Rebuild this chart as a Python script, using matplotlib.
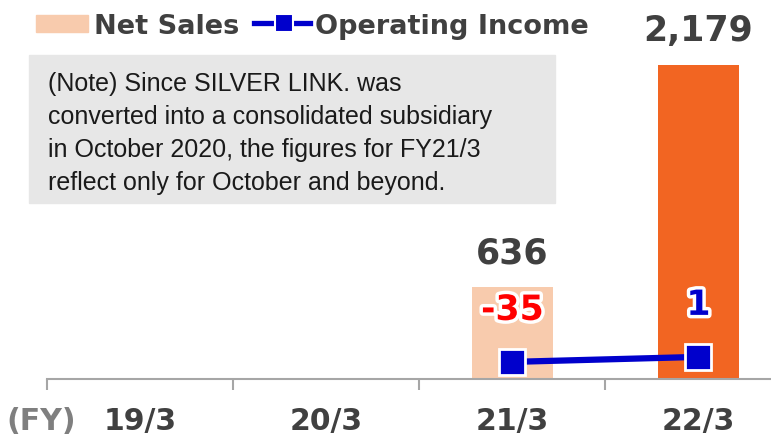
import numpy as np
import matplotlib.pyplot as plt
import matplotlib.patheffects as pe
from matplotlib.patches import Rectangle
from matplotlib.lines import Line2D

years = ['19/3', '20/3', '21/3', '22/3']
net_sales = [np.nan, np.nan, 636, 2179]
op_income = [np.nan, np.nan, -35, 1]
bar_colors = ['#F8CBAD', '#F8CBAD', '#F8CBAD', '#F26522']
note = ("(Note) Since SILVER LINK. was\n"
        "converted into a consolidated subsidiary\n"
        "in October 2020, the figures for FY21/3\n"
        "reflect only for October and beyond.")

plt.rcParams['font.family'] = ['DejaVu Sans']
dark = '#404040'
blue = '#0000CC'
W, H = 771, 436


def fx(px):
    return px / W


def fy(py):
    return 1 - py / H


fig = plt.figure(figsize=(7.71, 4.36), dpi=100)
ax = fig.add_axes([fx(47), 57 / H, 724 / W, 379 / H])
ax2 = ax.twinx()

x = np.arange(len(years))
ax.bar(x, net_sales, width=0.435, color=bar_colors, zorder=1)
ax2.plot(x, op_income, color=blue, lw=4.5, marker='s', ms=19,
         mfc=blue, mec='white', mew=2, zorder=3)

for i, v in enumerate(net_sales):
    if not np.isnan(v):
        ax.annotate(f'{v:,.0f}', (x[i], v), xytext=(0, 34),
                    textcoords='offset pixels', ha='center', va='center',
                    fontsize=25, fontweight='bold', color=dark)

for i, v in enumerate(op_income):
    if not np.isnan(v):
        c = 'red' if v < 0 else blue
        ax2.annotate(f'{v:,.0f}', (x[i], v), xytext=(0, 52),
                     textcoords='offset pixels', ha='center', va='center',
                     fontsize=25, fontweight='bold', color=c,
                     path_effects=[pe.withStroke(linewidth=5, foreground='white')])

for a in (ax, ax2):
    for s in ['top', 'right', 'left']:
        a.spines[s].set_visible(False)
    a.set_yticks([])
ax2.spines['bottom'].set_visible(False)
ax.spines['bottom'].set_color('#A6A6A6')
ax.spines['bottom'].set_linewidth(1.5)

ax.set_xticks(x)
ax.set_xticklabels(years, fontsize=21.5, fontweight='bold', color=dark)
ax.tick_params(axis='x', which='major', length=0, pad=20)
ax.set_xticks(np.arange(-0.5, 4, 1), minor=True)
ax.tick_params(axis='x', which='minor', length=8, width=1.5, color='#A6A6A6')

# limits after ticks (set_xticks widens the view)
ax.set_xlim(-0.5, 3.39)
ax.set_ylim(0, 2630)
ax2.set_ylim(-158, 2568)

fig.text(fx(41), fy(421), '(FY)', ha='center', va='center',
         fontsize=21.5, fontweight='bold', color='#7F7F7F')

# note box
fig.patches.append(Rectangle((fx(29), fy(203)), 526 / W, 148 / H,
                             transform=fig.transFigure, color='#E7E7E7', zorder=0))
fig.text(fx(48), fy(72), note, ha='left', va='top', fontsize=18,
         family='Liberation Sans', color='#1A1A1A', linespacing=1.47)

# legend
fig.patches.append(Rectangle((fx(36), fy(32)), 52 / W, 17 / H,
                             transform=fig.transFigure, color='#F8CBAD'))
fig.lines.append(Line2D([fx(254), fx(310)], [fy(23), fy(23)], transform=fig.transFigure,
                        color=blue, lw=3.8))
fig.lines.append(Line2D([fx(284)], [fy(23)], transform=fig.transFigure, marker='s',
                        ms=13, mfc=blue, mec='white', mew=1.5))
fig.text(fx(94), fy(27), 'Net Sales', ha='left', va='center',
         fontsize=19.5, fontweight='bold', color=dark)
fig.text(fx(315), fy(27), 'Operating Income', ha='left', va='center',
         fontsize=19.5, fontweight='bold', color=dark)

fig.savefig('out.png', dpi=100)
